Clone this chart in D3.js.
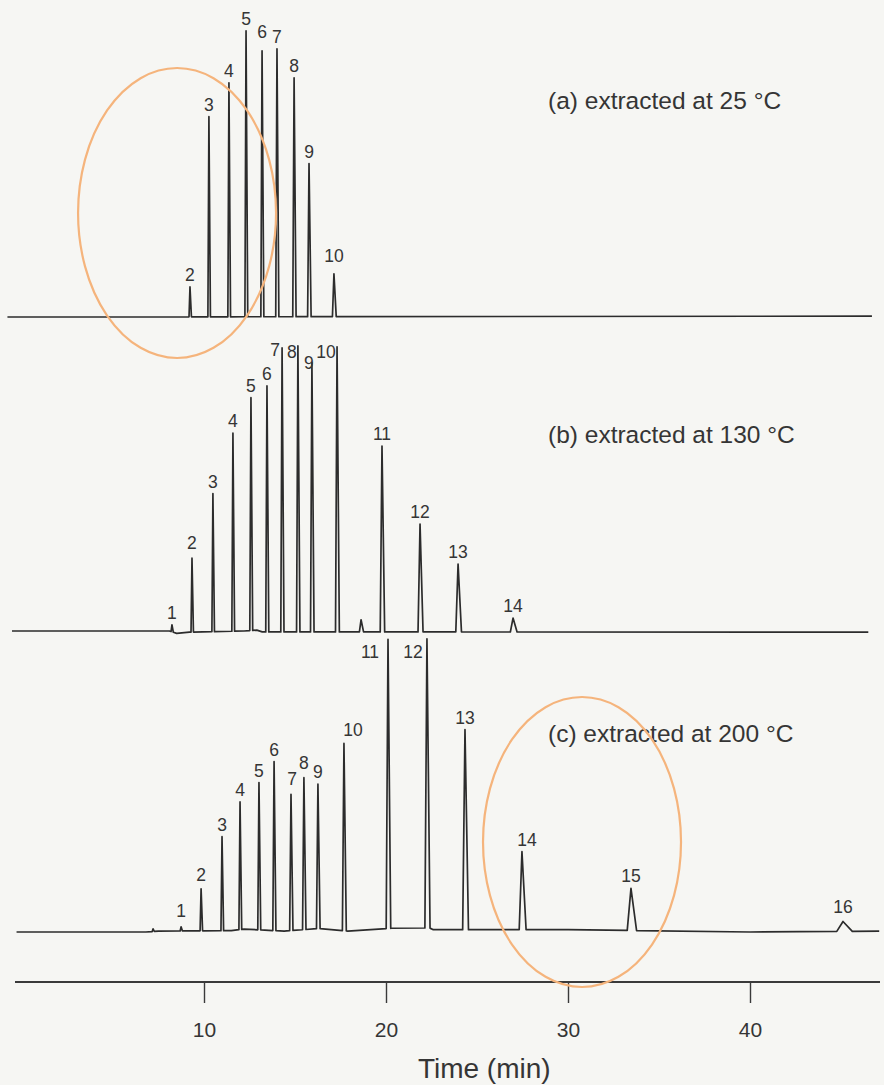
<!DOCTYPE html>
<html>
<head>
<meta charset="utf-8">
<script src="https://cdn.jsdelivr.net/npm/d3@7"></script>
<style>
body{margin:0;background:#f6f6f3;}
svg{display:block;}
text{font-family:"Liberation Sans",Arial,Helvetica,sans-serif;fill:#353535;}
</style>
</head>
<body>
<div id="chart"></div>
<script>
//データ（時間 min, 強度 任意単位）
const tickValues=[10,20,30,40];

const aLabels=["2","3","4","5","6","7","8","9","10"];
const aTimes=[9.23,10.27,11.37,12.31,13.19,14.01,14.95,15.77,17.14];
const aHeights=[10.3,69.0,80.7,98.6,91.7,92.4,82.4,52.8,14.8];
const aDrift=[[-0.8,0],[46.7,0.3]];

const bLabels=["1","2","3","4","5","6","7","8","9","10","","11","12","13","14"];
const bTimes=[8.24,9.34,10.49,11.59,12.58,13.46,14.29,15.16,15.93,17.31,18.63,19.78,21.87,23.96,26.98];
const bHeights=[2.4,25.5,47.6,68.3,80.3,84.8,97.9,98.6,92.8,98.3,4.2,64.1,37.2,23.4,4.8];
const bDrift=[[-0.55,0],[8.1,0],[8.5,-0.8],[9.2,-0.4],[12.2,0],[12.9,0.3],[13.2,-0.3],[46.5,-0.4]];

const cLabels=["","1","2","3","4","5","6","7","8","9","10","11","12","13","14","15","16"];
const cTimes=[7.2,8.74,9.84,10.99,11.98,13.02,13.85,14.78,15.49,16.26,17.69,20.11,22.25,24.34,27.47,33.46,45.11];
const cHeights=[0.9,1.4,14.5,32.4,44.0,50.8,58.3,47.0,52.4,49.8,64.6,99.7,99.7,69.0,26.9,14.5,3.4];
const cDrift=[[-0.3,0],[6.8,0],[7.5,0.3],[11.5,0.5],[12.2,1.0],[14.4,0.3],[16.3,1.2],[17.9,0.3],[20.3,1.3],[22.4,1.4],[22.6,0.8],[30,0.8],[40,0],[47.1,0.3]];

const panelTitles=["(a) extracted at 25 °C","(b) extracted at 130 °C","(c) extracted at 200 °C"];

//レイアウト
const width=884,height=1085;
const panels=[
	{labels:aLabels,times:aTimes,heights:aHeights,drift:aDrift,base:317,key:"a",titleY:109},
	{labels:bLabels,times:bTimes,heights:bHeights,drift:bDrift,base:631,key:"b",titleY:443},
	{labels:cLabels,times:cTimes,heights:cHeights,drift:cDrift,base:932,key:"c",titleY:742}
];
//ラベルの位置の微調整 [dx,dy]
const labelNudge={
	a6:[0,-7],a10:[0,-6],
	b2:[0,-3],b7:[-7,14],b8:[-6,18],b9:[-3,12],b10:[-11,17],
	c1:[0,-4],c2:[0,-2],c7:[1,-3],c8:[0,-3],c10:[9,-1],c11:[-18,25],c12:[-14,25],c14:[5,0],c16:[0,-3]
};
const marks=[{t:8.52,cy:213,rx:99,ry:145},{t:30.77,cy:842,rx:99,ry:145}];

const x=d3.scaleLinear().domain([0,47]).range([22,22+47*18.2]);

const svg=d3.select("#chart").append("svg")
	.attr("width",width)
	.attr("height",height);

svg.append("rect").attr("width",width).attr("height",height).attr("fill","#f6f6f3");

//ベースラインのドリフトを補間
function driftAt(drift,t){
	for(let i=1;i<drift.length;i++){
		if(t<=drift[i][0]){
			let p=drift[i-1],q=drift[i];
			return p[1]+(q[1]-p[1])*(t-p[0])/(q[0]-p[0]);
		}
	}
	return drift[drift.length-1][1];
}

//ピーク幅（保持時間とともに広がる）
function peakWidth(t){
	return 0.1+0.00037*t*t;
}

panels.forEach(function(p){
	let y=d3.scaleLinear().domain([0,100]).range([p.base,p.base-290]);
	let spans=[];
	let pts=[];
	p.times.forEach(function(t,i){
		let w=peakWidth(t);
		let t0=t-0.4*w,t1=t+0.6*w;
		spans.push([t0,t1]);
		pts.push([t0,driftAt(p.drift,t0)]);
		pts.push([t,driftAt(p.drift,t)+p.heights[i]]);
		pts.push([t1,driftAt(p.drift,t1)]);
	});
	p.drift.forEach(function(d){
		let inside=spans.some(function(s){return d[0]>=s[0]&&d[0]<=s[1];});
		if(!inside) pts.push(d);
	});
	pts.sort(function(a,b){return a[0]-b[0];});

	let line=d3.line()
		.x(function(d){return x(d[0]);})
		.y(function(d){return y(d[1]);});

	svg.append("path")
		.attr("d",line(pts))
		.attr("fill","none")
		.attr("stroke","#2c2c2c")
		.attr("stroke-width",1.7)
		.attr("stroke-linejoin","round");

	//ピーク番号
	p.times.forEach(function(t,i){
		let lab=p.labels[i];
		if(lab==="") return;
		let nudge=labelNudge[p.key+lab]||[0,0];
		svg.append("text")
			.attr("x",x(t)+nudge[0])
			.attr("y",y(driftAt(p.drift,t)+p.heights[i])-6+nudge[1])
			.attr("text-anchor","middle")
			.attr("font-size",17.5)
			.text(lab);
	});
});

panelTitles.forEach(function(s,i){
	svg.append("text")
		.attr("x",548)
		.attr("y",panels[i].titleY)
		.attr("font-size",24.5)
		.text(s);
});

//時間軸
let axis=d3.axisBottom(x)
	.tickValues(tickValues)
	.tickSize(21)
	.tickPadding(19)
	.tickFormat(d3.format("d"));
let gAxis=svg.append("g")
	.attr("transform","translate(0,982)")
	.call(axis);
gAxis.select(".domain").remove();
gAxis.selectAll(".tick line").attr("stroke","#3a3a3a").attr("stroke-width",1.4);
gAxis.selectAll(".tick text").attr("font-size",21).attr("fill","#353535")
	.attr("font-family","\"Liberation Sans\",Arial,sans-serif");
svg.append("line")
	.attr("x1",15).attr("x2",880)
	.attr("y1",982).attr("y2",982)
	.attr("stroke","#3a3a3a")
	.attr("stroke-width",1.8);

svg.append("text")
	.attr("x",x(25.4))
	.attr("y",1078)
	.attr("text-anchor","middle")
	.attr("font-size",28)
	.text("Time (min)");

//オレンジの丸
marks.forEach(function(m){
	svg.append("ellipse")
		.attr("cx",x(m.t))
		.attr("cy",m.cy)
		.attr("rx",m.rx)
		.attr("ry",m.ry)
		.attr("fill","none")
		.attr("stroke","#f5b47c")
		.attr("stroke-width",2.2);
});
</script>
</body>
</html>
